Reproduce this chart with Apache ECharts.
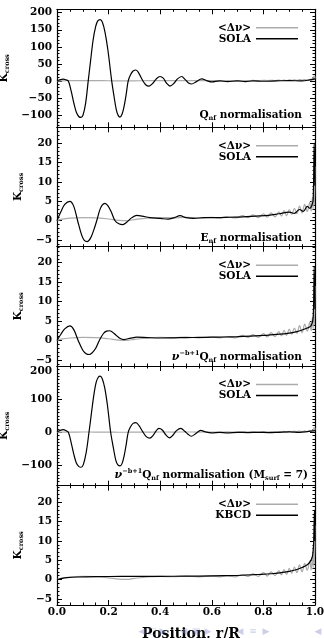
<!DOCTYPE html>
<html>
<head>
<meta charset="utf-8">
<script src="https://cdn.jsdelivr.net/npm/echarts@6/dist/echarts.min.js"></script>
<style>
html, body { margin: 0; padding: 0; background: #fff; }
#chart { width: 324px; height: 638px; }
</style>
</head>
<body>
<div id="chart"></div>
<script>
// ---- kernel data (position r/R, kernel value) ----
// <Δν> kernel, shared by every panel
const rDnu = [0, 0.02, 0.05, 0.1, 0.15, 0.2, 0.24, 0.27, 0.3, 0.35, 0.4, 0.45, 0.5, 0.55, 0.6, 0.63, 0.66, 0.69, 0.72, 0.74, 0.76, 0.78, 0.8, 0.815, 0.83, 0.845, 0.86, 0.87, 0.88, 0.89, 0.9, 0.91, 0.92, 0.93, 0.94, 0.95, 0.96, 0.97, 0.98, 0.985, 0.99, 0.993, 0.996, 0.998, 1.0];
const kDnu = [0, 0.4, 0.65, 0.8, 0.75, 0.45, 0.1, 0.05, 0.3, 0.65, 0.8, 0.75, 0.85, 0.7, 0.9, 0.7, 1.0, 0.7, 1.3, 0.8, 1.5, 0.8, 1.8, 0.9, 2.0, 1.0, 2.3, 1.2, 2.6, 1.3, 2.9, 1.6, 3.2, 1.8, 3.8, 2.0, 4.2, 2.4, 4.8, 2.5, 6, 3, 15, 4, 14];

// SOLA, Q_nf normalisation
const rS1 = [0, 0.01, 0.024, 0.035, 0.044, 0.055, 0.065, 0.075, 0.085, 0.093, 0.101, 0.111, 0.121, 0.13, 0.14, 0.15, 0.158, 0.167, 0.176, 0.186, 0.197, 0.212, 0.221, 0.23, 0.237, 0.244, 0.252, 0.26, 0.268, 0.276, 0.285, 0.295, 0.306, 0.317, 0.33, 0.345, 0.357, 0.37, 0.385, 0.399, 0.412, 0.425, 0.438, 0.452, 0.467, 0.483, 0.498, 0.51, 0.522, 0.54, 0.561, 0.58, 0.6, 0.63, 0.66, 0.7, 0.73, 0.76, 0.8, 0.85, 0.9, 0.95, 0.98, 1.0];
const kS1 = [0, 3, 5, 3, 0, -30, -64, -92, -105, -107, -100, -65, 0, 58, 120, 160, 176, 180, 172, 143, 92, 0, -45, -85, -101, -106, -98, -75, -40, 0, 18, 29, 32, 23, 4, -12, -15, -8, 6, 13, 8, -7, -15, -8, 6, 13, 3, -6, -9, -2, 6, 1, -3, 0, -2, 0, -2, 0, -1, 0, 1, 0, 3, 6];

// SOLA, E_nf normalisation
const rS2 = [0, 0.015, 0.03, 0.05, 0.065, 0.08, 0.095, 0.105, 0.117, 0.13, 0.142, 0.154, 0.165, 0.175, 0.186, 0.197, 0.21, 0.225, 0.24, 0.255, 0.27, 0.29, 0.31, 0.33, 0.36, 0.4, 0.43, 0.455, 0.477, 0.5, 0.53, 0.57, 0.62, 0.67, 0.72, 0.77, 0.82, 0.86, 0.9, 0.92, 0.94, 0.955, 0.97, 0.98, 0.988, 0.993, 0.997, 1.0];
const kS2 = [0, 2.3, 4.2, 5.0, 3.7, 0, -3.6, -5.0, -5.4, -4.5, -2.5, 0, 2.6, 4.0, 4.5, 3.9, 2.3, 0, -0.8, -1.0, -0.4, 0.8, 1.4, 1.2, 0.8, 0.6, 0.4, 0.8, 1.3, 0.8, 0.6, 0.8, 0.8, 0.9, 1.0, 1.2, 1.4, 1.8, 2.2, 1.9, 2.9, 2.4, 3.7, 3.2, 4.0, 5.5, 20, 9];

// SOLA, ν^(-b+1) Q_nf normalisation
const rS3 = [0, 0.015, 0.03, 0.05, 0.065, 0.082, 0.1, 0.113, 0.125, 0.137, 0.15, 0.164, 0.18, 0.192, 0.203, 0.214, 0.225, 0.245, 0.26, 0.285, 0.31, 0.35, 0.4, 0.45, 0.5, 0.55, 0.6, 0.65, 0.7, 0.75, 0.8, 0.85, 0.88, 0.9, 0.93, 0.95, 0.97, 0.985, 0.993, 0.997, 1.0];
const kS3 = [0, 1.6, 3.0, 3.75, 2.8, 0, -2.5, -3.4, -3.6, -3.1, -2.0, 0, 1.8, 2.4, 2.5, 2.2, 1.6, 0.5, 0.25, 0.6, 0.85, 0.75, 0.65, 0.7, 0.75, 0.8, 0.85, 0.9, 1.0, 1.15, 1.3, 1.6, 1.7, 1.9, 2.3, 2.7, 3.2, 3.8, 6, 19, 8];

// SOLA, ν^(-b+1) Q_nf normalisation with M_surf = 7
const rS4 = [0, 0.01, 0.025, 0.035, 0.044, 0.055, 0.065, 0.075, 0.085, 0.093, 0.102, 0.113, 0.124, 0.133, 0.143, 0.152, 0.16, 0.167, 0.175, 0.185, 0.195, 0.208, 0.218, 0.228, 0.236, 0.244, 0.252, 0.26, 0.268, 0.276, 0.285, 0.295, 0.306, 0.318, 0.332, 0.347, 0.36, 0.372, 0.384, 0.395, 0.408, 0.422, 0.436, 0.449, 0.463, 0.48, 0.495, 0.508, 0.52, 0.538, 0.557, 0.575, 0.6, 0.63, 0.66, 0.7, 0.74, 0.78, 0.82, 0.86, 0.9, 0.94, 0.97, 1.0];
const kS4 = [0, 5, 8, 5, 0, -32, -66, -93, -104, -106, -98, -62, 0, 55, 114, 152, 167, 170, 163, 135, 85, 0, -45, -85, -99, -102, -95, -72, -38, 0, 17, 27, 29, 20, 2, -14, -18, -10, 4, 12, 7, -8, -17, -9, 5, 12, 3, -6, -12, -4, 6, 1, -2, 0, -2, 0, -1, 0, -1, 0, 1, 0, 2, 5];

// KBCD
const rK = [0, 0.02, 0.04, 0.08, 0.15, 0.25, 0.35, 0.45, 0.55, 0.65, 0.72, 0.78, 0.83, 0.87, 0.9, 0.93, 0.95, 0.97, 0.98, 0.99, 0.995, 0.998, 1.0];
const kK = [-0.1, 0.3, 0.5, 0.65, 0.75, 0.8, 0.8, 0.85, 0.9, 1.0, 1.1, 1.3, 1.5, 1.8, 2.1, 2.6, 3.1, 3.8, 4.5, 6, 10, 18, 10];

// ---- tick labels ----
const ticksR = [0, 0.2, 0.4, 0.6, 0.8, 1.0];
const ticksBig1 = [-100, -50, 0, 50, 100, 150, 200];
const ticksBig4 = [-100, 0, 100, 200];
const ticksK = [-5, 0, 5, 10, 15, 20];

const FONT = 'DejaVu Serif';
const GREY = '#ababab';

// stacked panel layout
const panels = [
  { top: 9.3,   bottom: 127.3, min: -136,  max: 210,  ticks: ticksBig1, minor: 10, r: rS1, k: kS1, name: 'SOLA', gap: 44 },
  { top: 127.3, bottom: 246.7, min: -6.7,  max: 24.1, ticks: ticksK,    minor: 1,  r: rS2, k: kS2, name: 'SOLA', gap: 29 },
  { top: 246.7, bottom: 366,   min: -6.55, max: 24.1, ticks: ticksK,    minor: 1,  r: rS3, k: kS3, name: 'SOLA', gap: 29 },
  { top: 366,   bottom: 485.7, min: -162,  max: 201,  ticks: ticksBig4, minor: 10, r: rS4, k: kS4, name: 'SOLA', gap: 44 },
  { top: 485.7, bottom: 605,   min: -6.6,  max: 24.3, ticks: ticksK,    minor: 1,  r: rK,  k: kK,  name: 'KBCD', gap: 29 }
];

const pairs = (rs, ks) => rs.map((r, j) => [r, ks[j]]);
const fmtY = v => (v < 0 ? '\u2212' + Math.abs(v) : String(v));

function minorList(lo, hi, step) {
  const out = [];
  for (let v = Math.ceil(lo / step) * step; v <= hi + 1e-9; v += step) out.push(Math.round(v * 1000) / 1000);
  return out;
}

const baseText = { fontFamily: FONT, fontWeight: 'bold', color: '#000' };
const richText = {
  b:   { fontFamily: FONT, fontWeight: 'bold', fontSize: 10.5, lineHeight: 14, verticalAlign: 'middle', color: '#000' },
  nu:  { fontFamily: FONT, fontWeight: 'bold', fontStyle: 'italic', fontSize: 11, lineHeight: 14, verticalAlign: 'middle', color: '#000' },
  s:   { fontFamily: FONT, fontWeight: 'bold', fontSize: 6.5, lineHeight: 8, verticalAlign: 'bottom', color: '#000' },
  p:   { fontFamily: FONT, fontWeight: 'bold', fontSize: 6.5, lineHeight: 8, verticalAlign: 'top', color: '#000' }
};

const grids = [], xAxes = [], yAxes = [], series = [], legends = [];

panels.forEach((p, i) => {
  grids.push({ left: 57, right: 9, top: p.top, height: p.bottom - p.top, outerBoundsMode: 'none', containLabel: false });

  const xBase = {
    gridIndex: i, type: 'value', min: 0, max: 1, interval: 0.2,
    axisLine: { onZero: false, lineStyle: { color: '#000', width: 1.2 } },
    axisTick: { inside: true, length: 5, lineStyle: { color: '#000', width: 1 } },
    minorTick: { show: true, splitNumber: 4, length: 2.5, lineStyle: { color: '#000', width: 1 } },
    splitLine: { show: false }, minorSplitLine: { show: false }
  };
  const last = i === panels.length - 1;
  xAxes.push(Object.assign({}, xBase, {
    position: 'bottom',
    axisLabel: { show: last, margin: 2, formatter: v => v.toFixed(1), fontSize: 10.5, ...baseText },
    name: last ? 'Position, r/R' : '',
    nameLocation: 'middle', nameGap: 22,
    nameTextStyle: { fontFamily: FONT, fontWeight: 'bold', fontSize: 14, color: '#000', padding: [0, 0, 0, 10] }
  }));
  xAxes.push(Object.assign({}, xBase, { position: 'top', axisLabel: { show: false } }));

  const yBase = {
    gridIndex: i, type: 'value', min: p.min, max: p.max,
    splitLine: { show: false }, axisLabel: { show: false }
  };
  const minors = minorList(p.min, p.max, p.minor);
  const labelRich = { dn: { padding: [9, 0, 0, 0], fontSize: 10.5, fontFamily: FONT, fontWeight: 'bold', color: '#000' } };
  // left: major ticks, labels and title
  yAxes.push(Object.assign({}, yBase, {
    position: 'left',
    axisLine: { onZero: false, lineStyle: { color: '#000', width: 1.2 } },
    axisTick: { inside: true, length: 5, customValues: p.ticks, lineStyle: { color: '#000', width: 1 } },
    axisLabel: {
      show: true, customValues: p.ticks, margin: 5, fontSize: 10.5, ...baseText,
      rich: labelRich,
      formatter: v => (i === 3 && v === 200 ? '{dn|200}' : fmtY(v))
    },
    name: '{k|K}{s|cross}',
    nameLocation: 'middle', nameGap: p.gap, nameRotate: 90,
    nameTextStyle: {
      rich: {
        k: { fontFamily: FONT, fontWeight: 'bold', fontSize: 10.5, lineHeight: 13, verticalAlign: 'middle', color: '#000' },
        s: { fontFamily: FONT, fontWeight: 'bold', fontSize: 6.5, lineHeight: 7, verticalAlign: 'bottom', color: '#000' }
      }
    }
  }));
  // left: minor ticks
  yAxes.push(Object.assign({}, yBase, {
    position: 'left', axisLine: { show: false, onZero: false },
    axisTick: { inside: true, length: 2.5, customValues: minors, lineStyle: { color: '#000', width: 1 } }
  }));
  // right: major and minor ticks
  yAxes.push(Object.assign({}, yBase, {
    position: 'right',
    axisLine: { onZero: false, lineStyle: { color: '#000', width: 1.2 } },
    axisTick: { inside: true, length: 5, customValues: p.ticks, lineStyle: { color: '#000', width: 1 } }
  }));
  yAxes.push(Object.assign({}, yBase, {
    position: 'right', axisLine: { show: false, onZero: false },
    axisTick: { inside: true, length: 2.5, customValues: minors, lineStyle: { color: '#000', width: 1 } }
  }));

  series.push({
    type: 'line', name: '<\u0394\u03bd>', xAxisIndex: 2 * i, yAxisIndex: 4 * i,
    data: pairs(rDnu, kDnu), color: GREY, symbol: 'none', smooth: 0.35,
    lineStyle: { color: GREY, width: 1.2 }, silent: true, z: 2
  });
  series.push({
    type: 'line', name: p.name, xAxisIndex: 2 * i, yAxisIndex: 4 * i,
    data: pairs(p.r, p.k), color: '#000', symbol: 'none', smooth: 0.35,
    lineStyle: { color: '#000', width: 1.2 }, silent: true, z: 3
  });

  legends.push({
    data: ['<\u0394\u03bd>', p.name], orient: 'vertical', align: 'right',
    right: 26, top: p.top + 13, padding: 0, itemGap: 0,
    icon: 'rect', itemWidth: 42, itemHeight: 1.5, selectedMode: false,
    textStyle: { fontFamily: FONT, fontWeight: 'bold', fontSize: 10.5, lineHeight: 10.5, color: '#000' }
  });
});

// panel captions
const captions = [
  { x: 302, y: 115,   text: '{b|Q}{s|nf}{b| normalisation}' },
  { x: 302, y: 238.3, text: '{b|E}{s|nf}{b| normalisation}' },
  { x: 302, y: 357.3, text: '{nu|\u03bd}{p|\u2212b+1}{b|Q}{s|nf}{b| normalisation}' },
  { x: 308, y: 475,   text: '{nu|\u03bd}{p|\u2212b+1}{b|Q}{s|nf}{b| normalisation (M}{s|surf}{b| = 7)}' }
];
const graphics = captions.map(c => ({
  type: 'text', x: c.x, y: c.y, z: 10,
  style: { text: c.text, rich: richText, align: 'right', verticalAlign: 'middle', fill: '#000' }
}));

// slide navigation symbols along the bottom edge
const navSymbols = [
  { x: 142, s: '\u25c0' }, { x: 152, s: '\u25a1' }, { x: 163, s: '\u25b6' },
  { x: 184, s: '\u25c0' }, { x: 196, s: '\u25a3' }, { x: 208, s: '\u25b6' },
  { x: 240, s: '\u25c0' }, { x: 253, s: '\u2261' }, { x: 266, s: '\u25b6' },
  { x: 318, s: '\u25c0' }
];
navSymbols.forEach(n => graphics.push({
  type: 'text', x: n.x, y: 632, z: 20,
  style: { text: n.s, fill: 'rgba(140,150,205,0.45)', font: '9px "DejaVu Sans"', align: 'center', verticalAlign: 'middle' }
}));

const chart = echarts.init(document.getElementById('chart'), null, { renderer: 'canvas' });
chart.setOption({
  animation: false,
  backgroundColor: '#fff',
  grid: grids,
  xAxis: xAxes,
  yAxis: yAxes,
  legend: legends,
  series: series,
  graphic: graphics
});
</script>
</body>
</html>
